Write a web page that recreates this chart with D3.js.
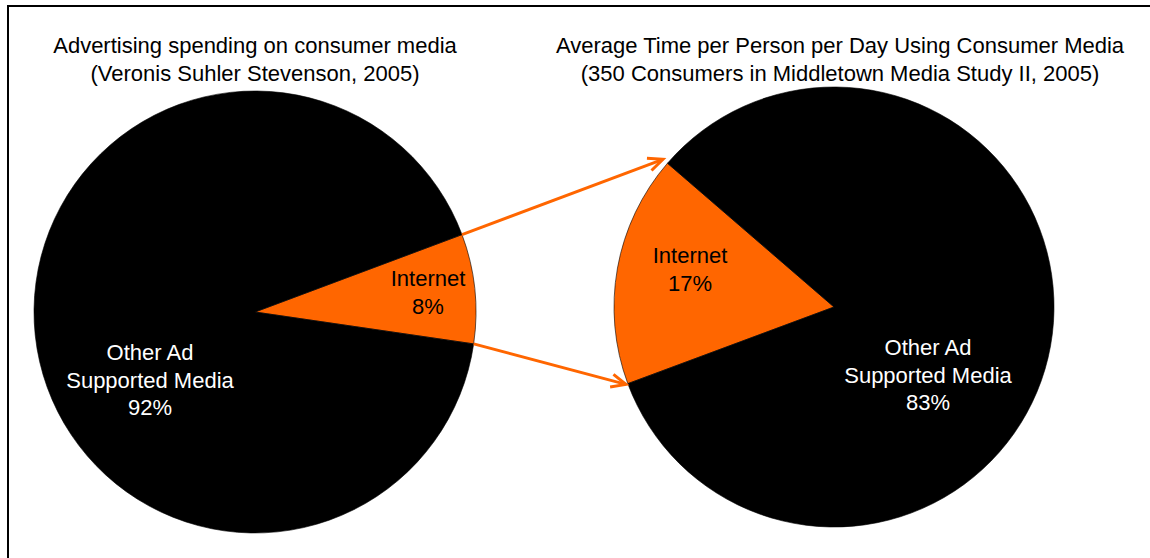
<!DOCTYPE html>
<html>
<head>
<meta charset="utf-8">
<script src="https://cdn.jsdelivr.net/npm/d3@7"></script>
<style>
  html, body { margin: 0; padding: 0; background: #fff; }
  svg { display: block; font-family: "Liberation Sans", Arial, sans-serif; }
</style>
</head>
<body>
<svg id="chart" width="1150" height="558"></svg>
<script>
// Share of each media category, in percent
const categories = ["Internet", "Other Ad Supported Media"];
const labelLines = [["Internet"], ["Other Ad", "Supported Media"]];
const spendValues = [8, 92];
const timeValues = [17, 83];
const titles = [
  ["Advertising spending on consumer media", "(Veronis Suhler Stevenson, 2005)"],
  ["Average Time per Person per Day Using Consumer Media", "(350 Consumers in Middletown Media Study II, 2005)"]
];

const colors = d3.scaleOrdinal().domain(categories).range(["#ff6600", "#000000"]);
const textColors = d3.scaleOrdinal().domain(categories).range(["#000000", "#ffffff"]);

const svg = d3.select("#chart");
const deg = Math.PI / 180;

// Frame running off the lower right of the page
svg.append("rect")
  .attr("x", 8).attr("y", 6).attr("width", 1200).attr("height", 700)
  .attr("fill", "none").attr("stroke", "#000").attr("stroke-width", 2);

const pies = [
  { values: spendValues, cx: 255, cy: 312, r: 221, start: 69.5, title: titles[0], titleX: 255,
    labelPos: [[428, 278], [150, 352]] },
  { values: timeValues, cx: 834, cy: 307, r: 220, start: 249.6, title: titles[1], titleX: 840,
    labelPos: [[690, 255], [928, 347]] }
];

pies.forEach(p => {
  const pie = d3.pie().sort(null)
    .startAngle(p.start * deg).endAngle((p.start + 360) * deg);
  const arcs = pie(p.values).map((a, i) => Object.assign(a, { cat: categories[i], i }));
  p.arcs = arcs;
  const arc = d3.arc().innerRadius(0).outerRadius(p.r);
  const g = svg.append("g").attr("transform", `translate(${p.cx},${p.cy})`);
  g.selectAll("path").data(arcs).join("path")
    .attr("d", arc)
    .attr("fill", d => colors(d.cat))
    .attr("stroke", "#000").attr("stroke-width", 0.6);

  // Slice labels: name lines then percentage
  arcs.forEach((a, i) => {
    const lines = labelLines[i].concat([a.data + "%"]);
    const t = svg.append("text")
      .attr("text-anchor", "middle")
      .attr("fill", textColors(a.cat))
      .attr("font-size", 22);
    lines.forEach((ln, k) => {
      t.append("tspan").attr("x", p.labelPos[i][0]).attr("y", p.labelPos[i][1] + 8 + k * 27.5).text(ln);
    });
  });

  // Title
  const tt = svg.append("text").attr("text-anchor", "middle").attr("font-size", 22).attr("fill", "#000");
  p.title.forEach((ln, k) => {
    tt.append("tspan").attr("x", p.titleX).attr("y", 53 + k * 28).text(ln);
  });
});

// Arrows linking the Internet slice of the first pie to the second
const edgePoint = (p, angle, extra) => [
  p.cx + (p.r + extra) * Math.sin(angle),
  p.cy - (p.r + extra) * Math.cos(angle)
];
const A = pies[0].arcs[0], B = pies[1].arcs[0];
const arrows = [
  [edgePoint(pies[0], A.startAngle, 0), edgePoint(pies[1], B.endAngle, 6)],
  [edgePoint(pies[0], A.endAngle, 0), edgePoint(pies[1], B.startAngle, 2)]
];
const orange = colors("Internet");
arrows.forEach(([s, e]) => {
  svg.append("line")
    .attr("x1", s[0]).attr("y1", s[1]).attr("x2", e[0]).attr("y2", e[1])
    .attr("stroke", orange).attr("stroke-width", 3);
  const ang = Math.atan2(e[1] - s[1], e[0] - s[0]);
  const len = 16, spread = 24 * deg;
  const w1 = [e[0] - len * Math.cos(ang - spread), e[1] - len * Math.sin(ang - spread)];
  const w2 = [e[0] - len * Math.cos(ang + spread), e[1] - len * Math.sin(ang + spread)];
  svg.append("path")
    .attr("d", d3.line()([w1, e, w2]))
    .attr("fill", "none").attr("stroke", orange).attr("stroke-width", 3)
    .attr("stroke-linejoin", "miter");
});
</script>
</body>
</html>
